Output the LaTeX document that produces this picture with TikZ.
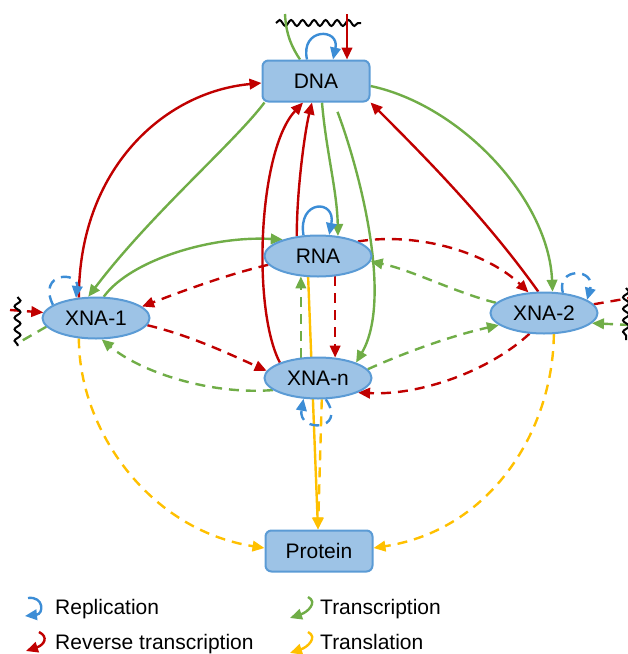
\documentclass[tikz,border=0pt]{standalone}
\usepackage{fontspec}
\setmainfont{Liberation Sans}
\usetikzlibrary{arrows.meta,decorations.pathmorphing,backgrounds,shapes.geometric}
\definecolor{cblue}{HTML}{3C8DD6}
\definecolor{cred}{HTML}{C00000}
\definecolor{cgreen}{HTML}{70AD47}
\definecolor{cyellow}{HTML}{FFC000}
\definecolor{nfill}{HTML}{9DC3E6}
\definecolor{nline}{HTML}{5B9BD5}
\tikzset{
  nodefont/.style={font=\fontsize{21}{25}\selectfont},
  box/.style={draw=nline, fill=nfill, line width=2pt, rounded corners=6pt, minimum width=107pt, minimum height=41pt, inner sep=0pt, nodefont},
  oval/.style={draw=nline, fill=nfill, line width=2pt, ellipse, minimum width=107pt, minimum height=41pt, inner sep=0pt, nodefont},
  base/.style={line width=2.4pt},
  tip/.style={-{Triangle[length=12pt,width=10.5pt]}},
  dsh/.style={dash pattern=on 10pt off 7pt},
  R/.style={base, draw=cred},
  G/.style={base, draw=cgreen},
  B/.style={base, draw=cblue},
  Y/.style={base, draw=cyellow},
  wave/.style={draw=black, line width=2pt, decorate, decoration={snake, amplitude=3pt, segment length=11.5pt}},
  legtext/.style={anchor=base west, inner sep=0pt, font=\fontsize{21}{25}\selectfont}
}
\begin{document}
\begin{tikzpicture}[x=1pt,y=-1pt]
\useasboundingbox (0,0) rectangle (628,654);
% nodes
\node[box] (DNA) at (316,81) {DNA};
\node[oval] (RNA) at (318,256) {RNA};
\node[oval] (X1) at (96,318) {XNA-1};
\node[oval] (X2) at (544,313) {XNA-2};
\node[oval] (Xn) at (318,378) {XNA-n};
\node[box] (P) at (319,551) {Protein};
% free ends
\coordinate (wt1) at (276,23); \coordinate (wt2) at (361,23);
\coordinate (gtop) at (285,14); \coordinate (rtop) at (347,14);
\coordinate (wl1) at (17.5,297); \coordinate (wl2) at (17.5,346);
\coordinate (rl) at (10,310); \coordinate (gl) at (18,343);
\coordinate (wr1) at (626,288); \coordinate (wr2) at (626,340);
\coordinate (rr) at (630,298); \coordinate (gr) at (630,325);
% legend
\node[legtext] (lrep) at (55,614) {Replication};
\node[legtext] (lrev) at (55,649) {Reverse transcription};
\node[legtext] (ltc) at (320,614) {Transcription};
\node[legtext] (ltl) at (320,649) {Translation};

\begin{pgfonlayer}{background}
% top of DNA
\draw[wave] (wt1) -- (wt2);
\draw[G] (gtop) .. controls +(1,21) and +(-8,-12) .. ([xshift=-16pt]DNA.north);
\draw[R,tip] (rtop) -- ([xshift=31pt]DNA.north);
\draw[B,tip] ([xshift=-9pt]DNA.north) .. controls +(-7,-32) and +(7,-32) .. ([xshift=17pt]DNA.north);
% DNA <-> XNA-1, RNA
\draw[R,tip] (X1.130) .. controls +(0,-128) and +(-98,9) .. ([yshift=-2pt]DNA.west);
\draw[G,tip] ([xshift=3pt]DNA.south west) .. controls +(-30,40) and +(62,-82) .. (X1.110);
\draw[G,tip] (X1.70) .. controls +(27,-37) and +(-71,-4) .. (RNA.155);
\draw[R,tip] (Xn.158) .. controls +(-28,-53) and +(-45,48) .. ([xshift=-13pt]DNA.south);
\draw[R,tip] (RNA.137) .. controls +(0,-47) and +(-7,28) .. ([xshift=-4pt]DNA.south);
\draw[G,tip] ([xshift=6pt]DNA.south) .. controls +(4,48) and +(-1,-46) .. (RNA.45);
\draw[G,tip,shorten <=10pt] ([xshift=18pt]DNA.south) .. controls +(26,69) and +(37,-63) .. (Xn.22);
\draw[G,tip] ([yshift=-5pt]DNA.east) .. controls +(90,19) and +(-4,-93) .. (X2.68);
\draw[R,tip] (X2.105) .. controls +(-50,-70) and +(60,60) .. (DNA.south east);
% RNA
\draw[B,tip] (RNA.125) .. controls +(-6,-36) and +(7,-36) .. (RNA.62);
\draw[R,dsh,tip] (RNA.190) .. controls +(-42,10) and +(42,-16) .. (X1.14);
\draw[R,dsh,tip] (RNA.20) .. controls +(63,-10) and +(-39,-38) .. (X2.127);
\draw[G,dsh,tip] (X2.168) .. controls +(-40,-10) and +(40,8) .. (RNA.354);
\draw[R,dsh,tip] (RNA.310) -- (Xn.50);
\draw[G,dsh,tip] (Xn.130) -- (RNA.230);
\draw[Y,tip] (RNA.245) -- ([xshift=-1pt]P.north);
% XNA-n
\draw[Y,dsh,tip] (Xn.280) -- ([xshift=-1pt]P.north);
\draw[B,dsh,tip] (Xn.290) .. controls +(22,32) and +(-6,34) .. (Xn.235);
\draw[R,dsh,tip] (X1.352) .. controls +(42,10) and +(-40,-18) .. (Xn.172);
\draw[G,dsh,tip] (Xn.195) .. controls +(-64,5) and +(38,32) .. (X1.285);
\draw[G,dsh,tip] (Xn.10) .. controls +(40,-18) and +(-45,10) .. (X2.195);
\draw[R,dsh,tip] (X2.235) .. controls +(-40,37) and +(63,3) .. (Xn.340);
% Protein
\draw[Y,dsh,tip] (X1.230) .. controls +(0,92) and +(-115,-18) .. ([yshift=3pt]P.west);
\draw[Y,dsh,tip] (X2.295) .. controls +(-1,97) and +(117,-18) .. ([yshift=3pt]P.east);
% self loops
\draw[B,dsh,tip] (X2.47) .. controls +(-7,-26) and +(9,-32) .. (X2.17);
\draw[B,dsh,tip] (X1.163) .. controls +(-16,-33) and +(3,-27) .. (X1.135);
% left side
\draw[R,dsh,tip] (rl) -- (X1.174);
\draw[G,dsh] (X1.190) -- (gl);
\draw[wave] (wl1) -- (wl2);
% right side
\draw[R,dsh] (X2.10) -- (rr);
\draw[G,dsh,tip] (gr) -- (X2.348);
\draw[wave] (wr1) -- (wr2);
\end{pgfonlayer}
% legend icons
\draw[B,tip] ([xshift=-27pt,yshift=16pt]lrep.base west) .. controls +(16,-2) and +(19,-2) .. ([xshift=-30pt,yshift=-2pt]lrep.base west);
\draw[R,tip] ([xshift=-16pt,yshift=17pt]lrev.base west) .. controls +(10,5) and +(18,-6) .. ([xshift=-29pt,yshift=-2pt]lrev.base west);
\draw[G,tip] ([xshift=-12pt,yshift=17pt]ltc.base west) .. controls +(10,5) and +(18,-6) .. ([xshift=-30pt,yshift=-4pt]ltc.base west);
\draw[Y,tip] ([xshift=-12pt,yshift=17pt]ltl.base west) .. controls +(10,5) and +(18,-6) .. ([xshift=-30pt,yshift=-4pt]ltl.base west);
\end{tikzpicture}
\end{document}
